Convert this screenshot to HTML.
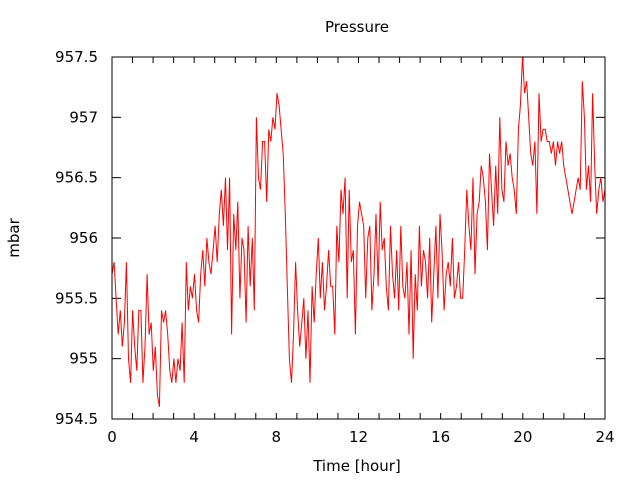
<!DOCTYPE html>
<html><head><meta charset="utf-8"><style>
body{margin:0;background:#fff}
svg text{font-family:"DejaVu Sans","Liberation Sans",sans-serif;font-size:15px;fill:#000}
</style></head><body>
<svg id="chart" width="640" height="480" xmlns="http://www.w3.org/2000/svg">
<rect width="640" height="480" fill="#fff"/>
<text x="357" y="32" text-anchor="middle">Pressure</text>
<text x="357" y="471" text-anchor="middle">Time [hour]</text>
<text x="19" y="238" text-anchor="middle" transform="rotate(-90 19 238)">mbar</text>
<g id="axes"></g>
<polyline id="line" fill="none" stroke="#f00" stroke-width="1"/>
<rect x="112" y="57" width="493" height="362" fill="none" stroke="#000" stroke-width="1"/>
</svg>
<script>
const xTicks=[0,4,8,12,16,20,24];
const yTicks=[954.5,955,955.5,956,956.5,957,957.5];
const yTickLabels=["954.5","955","955.5","956","956.5","957","957.5"];
const pressure=[
955.7,955.8,955.5,955.2,955.4,955.1,955.3,955.8,955.0,954.8,
955.4,955.1,954.9,955.4,955.4,954.8,955.1,955.7,955.2,955.3,
954.9,955.1,954.7,954.6,955.4,955.3,955.4,955.2,954.9,954.8,
955.0,954.8,955.0,954.9,955.3,954.8,955.8,955.4,955.6,955.5,
955.7,955.4,955.3,955.7,955.9,955.6,956.0,955.8,955.7,955.9,
956.1,955.8,956.2,956.4,956.1,956.5,955.9,956.5,955.2,956.2,
955.9,956.3,955.5,956.0,955.9,955.3,956.1,955.6,956.0,955.4,
957.0,956.5,956.4,956.8,956.8,956.3,956.9,956.8,957.0,956.9,
957.2,957.1,956.9,956.7,956.2,955.6,955.0,954.8,955.2,955.8,
955.4,955.1,955.3,955.5,955.0,955.4,954.8,955.6,955.3,955.7,
956.0,955.5,955.8,955.4,955.6,955.9,955.6,955.6,955.2,956.1,
955.8,956.4,956.2,956.5,955.5,956.4,955.8,955.9,955.2,956.1,
956.3,956.2,956.1,955.5,956.0,956.1,955.4,955.7,956.2,955.6,
956.3,955.9,956.0,955.6,955.4,956.1,955.7,955.5,955.9,955.4,
956.1,955.6,955.5,955.8,955.2,955.9,955.0,955.7,955.4,956.1,
955.6,955.9,955.8,955.5,956.0,955.3,955.7,956.1,955.5,956.2,
955.9,955.4,955.7,955.8,955.6,956.0,955.5,955.6,955.8,955.5,
955.5,955.9,956.4,956.1,955.9,956.5,955.7,956.2,956.3,956.6,
956.5,956.3,955.9,956.7,956.4,956.1,956.6,956.2,957.0,956.4,
956.3,956.8,956.6,956.7,956.5,956.4,956.2,956.9,957.1,957.5,
957.2,957.3,957.0,956.7,956.6,956.8,956.2,957.2,956.8,956.9,
956.9,956.8,956.8,956.7,956.8,956.6,956.8,956.7,956.8,956.6,
956.5,956.4,956.3,956.2,956.3,956.4,956.5,956.4,957.3,957.0,
956.4,956.6,956.3,957.2,956.6,956.2,956.4,956.5,956.3,956.4];
const X0=112,X1=605,Y0=419,Y1=57;
const xs=h=>X0+(h/24)*(X1-X0);
const ys=v=>Y0-(v-954.5)/3*(Y0-Y1);
const ns="http://www.w3.org/2000/svg";
const axes=document.getElementById('axes');
function mk(tag,attrs){const e=document.createElementNS(ns,tag);for(const k in attrs)e.setAttribute(k,attrs[k]);axes.appendChild(e);return e;}
for(let h=0;h<=24;h++){
 const x=xs(h);
 const t1=mk('line',{x1:x,x2:x,y1:Y0,y2:Y0-6,stroke:'#000'});
 
 
 const t2=mk('line',{x1:x,x2:x,y1:Y1,y2:Y1+6,stroke:'#000'});
 
 
}
xTicks.forEach(h=>{
 const t=mk('text',{x:xs(h),y:442,'text-anchor':'middle'});t.textContent=h;
 
 
});
yTicks.forEach((v,i)=>{
 const y=ys(v);
 const a=mk('line',{x1:X0,x2:X0+9,y1:y,y2:y,stroke:'#000'});
 
 
 const b=mk('line',{x1:X1,x2:X1-9,y1:y,y2:y,stroke:'#000'});
 
 
 const t=mk('text',{x:98,y:y+5,'text-anchor':'end'});t.textContent=yTickLabels[i];
 
 
});
const n=pressure.length;
document.getElementById('line').setAttribute('points',pressure.map((v,i)=>xs(i*24/(n-1)).toFixed(1)+','+ys(v).toFixed(1)).join(' '));
</script>
</body></html>
